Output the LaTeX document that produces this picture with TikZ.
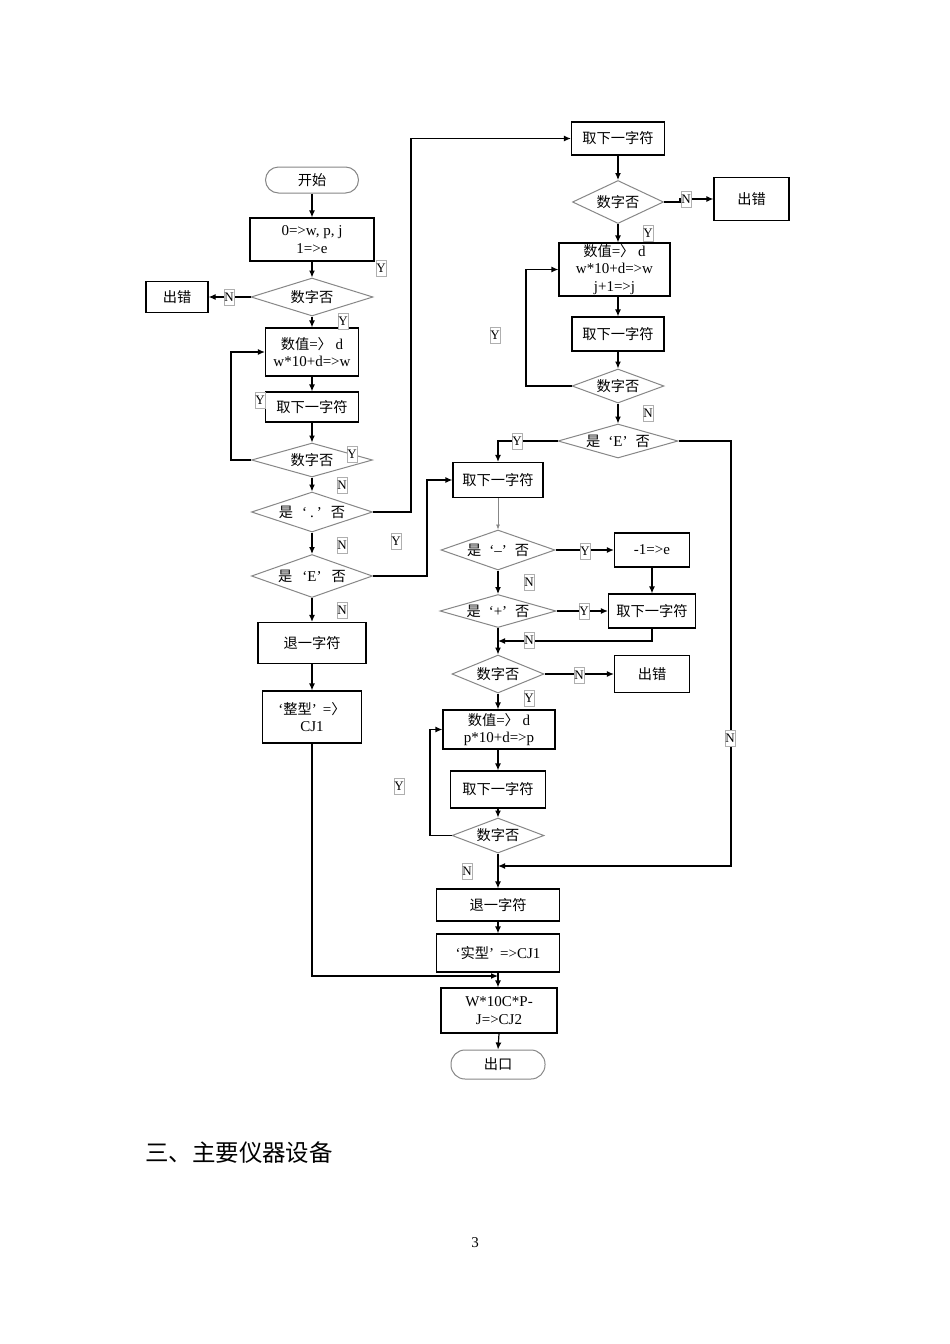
\documentclass[tikz,border=0pt]{standalone}
\usepackage{fontspec}
\setmainfont{Liberation Serif}
\newfontfamily\cjk[Scale=0.95]{Noto Sans CJK SC}
\usetikzlibrary{arrows.meta,shapes.geometric,calc}
\newcommand{\zh}[1]{{\cjk #1}}
\definecolor{diag}{RGB}{135,135,135}
\definecolor{labc}{RGB}{175,175,175}
\begin{document}
\begin{tikzpicture}[x=1pt,y=-1pt,
  every node/.style={font=\fontsize{15}{17.5}\selectfont, inner sep=0pt},
  box/.style={draw=black, line width=1.2pt, rectangle, align=center},
  dia/.style={draw=diag, line width=1pt, diamond, align=center},
  term/.style={draw=diag, line width=1pt, rectangle, rounded corners=13pt},
  lab/.style={draw=labc, fill=white, line width=0.6pt, minimum width=10pt, minimum height=16pt, font=\fontsize{13}{13}\selectfont},
  arr/.style={-{Latex[length=7pt,width=6pt]}, line width=1.2pt},
  ln/.style={line width=1.2pt}
]
\fill[white] (0,0) rectangle (950,1344);
\useasboundingbox (0,0) rectangle (950,1344);

% ---------- left column ----------
\node[term, minimum width=93pt, minimum height=26pt] (start) at (312,180) {\zh{开始}};
\node[box, minimum width=124pt, minimum height=43pt] (b1) at (312,239.5) {0=>w, p, j\\1=>e};
\node[dia, minimum width=122pt, minimum height=38pt, shape aspect=3.2] (d1) at (312,297) {\zh{数字否}};
\node[box, minimum width=62pt, minimum height=31pt] (err1) at (177,297) {\zh{出错}};
\node[box, minimum width=93pt, minimum height=48pt] (b2) at (312,352) {\zh{数值}=\zh{〉} d\\w*10+d=>w};
\node[box, minimum width=93pt, minimum height=30pt] (b3) at (312,407) {\zh{取下一字符}};
\node[dia, minimum width=121pt, minimum height=34pt, shape aspect=3.5] (d2) at (312,460) {\zh{数字否}};
\node[dia, minimum width=121pt, minimum height=40pt, shape aspect=3.0] (d3) at (312,512) {\zh{是}\hspace{9pt}‘\hspace{3pt}.\hspace{3pt}’\hspace{9pt}\zh{否}};
\node[dia, minimum width=121pt, minimum height=43pt, shape aspect=2.8] (d4) at (312,576) {\zh{是}\hspace{10pt}‘E’\hspace{10pt}\zh{否}};
\node[box, minimum width=108pt, minimum height=41pt] (b4) at (312,643) {\zh{退一字符}};
\node[box, minimum width=99pt, minimum height=52pt] (b5) at (312,717) {‘\zh{整型}’\hspace{6pt}=\zh{〉}\\CJ1};

% ---------- right column ----------
\node[box, minimum width=93pt, minimum height=33pt] (r1) at (618,138.5) {\zh{取下一字符}};
\node[dia, minimum width=91pt, minimum height=43pt, shape aspect=2.1] (rd1) at (618,202) {\zh{数字否}};
\node[box, minimum width=75pt, minimum height=43pt] (err2) at (751.5,199) {\zh{出错}};
\node[box, minimum width=111pt, minimum height=53pt] (r2) at (614.5,269.5) {\zh{数值}=\zh{〉} d\\w*10+d=>w\\j+1=>j};
\node[box, minimum width=92pt, minimum height=34pt] (r3) at (618,334) {\zh{取下一字符}};
\node[dia, minimum width=92pt, minimum height=34pt, shape aspect=2.7] (rd2) at (618,386) {\zh{数字否}};
\node[dia, minimum width=120pt, minimum height=34pt, shape aspect=3.5] (rd3) at (618,441) {\zh{是}\hspace{8pt}‘E’\hspace{8pt}\zh{否}};

% ---------- middle column ----------
\node[box, minimum width=90pt, minimum height=35pt] (m1) at (498,480) {\zh{取下一字符}};
\node[dia, minimum width=114pt, minimum height=40pt, shape aspect=2.85] (md1) at (498,550) {\zh{是}\hspace{8pt}‘–’\hspace{8pt}\zh{否}};
\node[box, minimum width=75pt, minimum height=34pt] (neg) at (652,550) {-1=>e};
\node[dia, minimum width=116pt, minimum height=33pt, shape aspect=3.5] (md2) at (498,611) {\zh{是}\hspace{8pt}‘+’\hspace{8pt}\zh{否}};
\node[box, minimum width=87pt, minimum height=34pt] (m2r) at (652,611) {\zh{取下一字符}};
\node[dia, minimum width=92pt, minimum height=38pt, shape aspect=2.4] (md3) at (498,674) {\zh{数字否}};
\node[box, minimum width=75pt, minimum height=37pt] (err3) at (652,674) {\zh{出错}};
\node[box, minimum width=112pt, minimum height=39pt] (m3) at (499,729.5) {\zh{数值}=\zh{〉} d\\p*10+d=>p};
\node[box, minimum width=95pt, minimum height=37pt] (m4) at (498,789.5) {\zh{取下一字符}};
\node[dia, minimum width=92pt, minimum height=35pt, shape aspect=2.6] (md4) at (498,835.5) {\zh{数字否}};
\node[box, minimum width=123pt, minimum height=32pt] (m5) at (498,905) {\zh{退一字符}};
\node[box, minimum width=123pt, minimum height=38pt] (m6) at (498,953) {‘\zh{实型}’\hspace{6pt}=>CJ1};
\node[box, minimum width=116pt, minimum height=45pt] (m7) at (499,1010.5) {W*10C*P-\\J=>CJ2};
\node[term, minimum width=94pt, minimum height=29pt, rounded corners=14pt] (exitn) at (498,1064.5) {\zh{出口}};

\coordinate (jn1) at (498,866);
\coordinate (jn2) at (498,641);
\coordinate (jn3) at (498,976);

% ---------- connectors: left ----------
\draw[arr] (start.south) -- (b1.north);
\draw[arr] (b1.south) -- (d1.north);
\draw[arr] (d1.west) -- (err1.east);
\draw[arr] (d1.south) -- (b2.north);
\draw[arr] (b2.south) -- (b3.north);
\draw[arr] (b3.south) -- (d2.north);
\draw[arr] (d2.west) -- (231,460) |- (b2.west);
\draw[arr] (d2.south) -- (d3.north);
\draw[arr] (d3.east) -- (411,512) |- (r1.west);
\draw[arr] (d3.south) -- (d4.north);
\draw[arr] (d4.east) -- (427,576) |- (m1.west);
\draw[arr] (d4.south) -- (b4.north);
\draw[arr] (b4.south) -- (b5.north);
\draw[arr] (b5.south) |- (jn3);

% ---------- connectors: right ----------
\draw[arr] (r1.south) -- (rd1.north);
\draw[arr] (rd1.east) -- ++(16,0) |- (err2.west);
\draw[arr] (rd1.south) -- (rd1.south |- r2.north);
\draw[arr] (r3.north |- r2.south) -- (r3.north);
\draw[arr] (r3.south) -- (rd2.north);
\draw[arr] (rd2.west) -- (526,386) |- (r2.west);
\draw[arr] (rd2.south) -- (rd3.north);
\draw[arr] (rd3.west) -| (m1.north);
\draw[arr] (rd3.east) -- (731,441) |- (jn1);

% ---------- connectors: middle ----------
\draw[-{Latex[length=5pt,width=4pt]}, draw=diag, line width=0.7pt] (m1.south) -- (md1.north);
\draw[arr] (md1.east) -- (neg.west);
\draw[arr] (neg.south) -- (m2r.north);
\draw[arr] (md1.south) -- (md2.north);
\draw[arr] (md2.east) -- (m2r.west);
\draw[arr] (m2r.south) |- (jn2);
\draw[arr] (md2.south) -- (md3.north);
\draw[arr] (md3.east) -- (err3.west);
\draw[arr] (md3.south) -- (md3.south |- m3.north);
\draw[arr] (m4.north |- m3.south) -- (m4.north);
\draw[arr] (m4.south) -- (md4.north);
\draw[arr] (md4.west) -- (430,835.5) |- (m3.west);
\draw[arr] (md4.south) -- (m5.north);
\draw[arr] (m5.south) -- (m6.north);
\draw[arr] (m6.south) -- (m6.south |- m7.north);
\draw[arr] (m7.south) -- (exitn.north);

% ---------- Y / N labels ----------
\node[lab] (l1) at (381,268) {Y};
\node[lab] (l2) at (229,297) {N};
\node[lab] (l3) at (343,321) {Y};
\node[lab] (l4) at (260,400) {Y};
\node[lab] (l5) at (352,454) {Y};
\node[lab] (l6) at (342,485) {N};
\node[lab] (l7) at (342,545) {N};
\node[lab] (l8) at (396,541) {Y};
\node[lab] (l9) at (342,610) {N};
\node[lab] (l10) at (686,199) {N};
\node[lab] (l11) at (648,233) {Y};
\node[lab] (l12) at (495,335) {Y};
\node[lab] (l13) at (648,413) {N};
\node[lab] (l14) at (517,441) {Y};
\node[lab] (l15) at (730,738) {N};
\node[lab] (l16) at (585,551) {Y};
\node[lab] (l17) at (529,582) {N};
\node[lab] (l18) at (584,611) {Y};
\node[lab] (l19) at (529,640) {N};
\node[lab] (l20) at (579,675) {N};
\node[lab] (l21) at (529,698) {Y};
\node[lab] (l22) at (399,786) {Y};
\node[lab] (l23) at (467,871) {N};

% ---------- page text ----------
\node[anchor=west, font=\cjk\fontsize{24.7}{28}\selectfont] (title) at (145,1153) {三、主要仪器设备};
\node[font=\fontsize{15}{16}\selectfont] (pg) at (475,1243) {3};
\end{tikzpicture}
\end{document}
